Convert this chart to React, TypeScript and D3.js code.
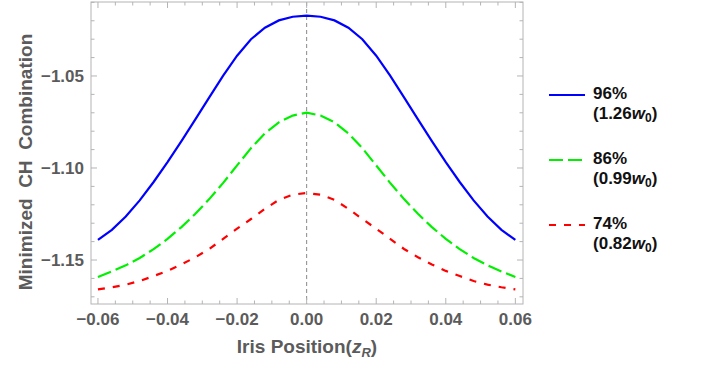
import React from 'react'
import * as d3 from 'd3'

// iris position in units of z_R
const xs = [
    -0.06, -0.056, -0.052, -0.048, -0.044, -0.04, -0.036, -0.032, -0.028, -0.024, -0.02, -0.016, -0.012, -0.008, -0.004,
    0, 0.004, 0.008, 0.012, 0.016, 0.02, 0.024, 0.028, 0.032, 0.036, 0.04, 0.044, 0.048, 0.052, 0.056, 0.06,
]
const blue96 = [
    -1.1391, -1.1336, -1.1264, -1.1176, -1.1076, -1.0968, -1.0854, -1.0736, -1.0616, -1.0498, -1.039, -1.03, -1.0238, -1.0198, -1.0178,
    -1.0172, -1.0178, -1.0198, -1.0238, -1.03, -1.039, -1.0498, -1.0616, -1.0736, -1.0854, -1.0968, -1.1076, -1.1176, -1.1264, -1.1336, -1.1391,
]
const green86 = [
    -1.1592, -1.1562, -1.1529, -1.1489, -1.1441, -1.1385, -1.1321, -1.1249, -1.1169, -1.1081, -1.0986, -1.0892, -1.0812, -1.0752, -1.0715,
    -1.0699, -1.0715, -1.0752, -1.0812, -1.0892, -1.0986, -1.1081, -1.1169, -1.1249, -1.1321, -1.1385, -1.1441, -1.1489, -1.1529, -1.1562, -1.1592,
]
const red74 = [
    -1.166, -1.1648, -1.1634, -1.1614, -1.1587, -1.1559, -1.1524, -1.1485, -1.144, -1.1385, -1.133, -1.1277, -1.1222, -1.1173, -1.1145,
    -1.1136, -1.1145, -1.1173, -1.1222, -1.1277, -1.133, -1.1385, -1.144, -1.1485, -1.1524, -1.1559, -1.1587, -1.1614, -1.1634, -1.1648, -1.166,
]

const xMajor = [-0.06, -0.04, -0.02, 0, 0.02, 0.04, 0.06]
const yMajor = [-1.05, -1.1, -1.15]
const legendPct = ['96%', '86%', '74%']
const legendWaist = ['1.26', '0.99', '0.82']

const W = 704
const H = 365
const left = 91
const right = 523
const top = 2
const bottom = 304
const grey = '#5b5b5b'
const frameCol = '#b4b4b4'

const fmt = (v: number) => (v < 0 ? '\u2212' : '') + d3.format('.2f')(Math.abs(v))

export default function App() {
    const x = d3.scaleLinear().domain([-0.062, 0.0622]).range([left, right])
    const y = d3.scaleLinear().domain([-1.1739, -1.0098]).range([bottom, top])

    const series = [
        { vals: blue96, color: '#0000ff', dash: undefined },
        { vals: green86, color: '#00f000', dash: '14,5' },
        { vals: red74, color: '#ff0000', dash: '7,8' },
    ]
    const line = d3
        .line<number>()
        .x((_, i) => x(xs[i]))
        .y((d) => y(d))

    const isMajor = (v: number, list: number[]) => list.some((m) => Math.abs(m - v) < 1e-6)
    const xTicks = x.ticks(25)
    const yTicks = y.ticks(16)

    return (
        <svg width={W} height={H} style={{ position: 'absolute', left: 0, top: 0, background: '#fff' }}
            fontFamily="'Liberation Sans', Arial, sans-serif">
            {/* zero line */}
            <line x1={x(0)} x2={x(0)} y1={top} y2={bottom} stroke="#8a8a8a" strokeWidth={1} strokeDasharray="4,3" />

            {series.map((s, i) => (
                <path key={i} d={line(s.vals) || ''} fill="none" stroke={s.color} strokeWidth={2.2}
                    strokeDasharray={s.dash} />
            ))}

            {/* frame */}
            <rect x={left} y={top} width={right - left} height={bottom - top} fill="none" stroke={frameCol} strokeWidth={1} />
            {xTicks.map((v, i) => {
                const len = isMajor(v, xMajor) ? 6 : 3.5
                return (
                    <g key={'xt' + i} stroke={frameCol}>
                        <line x1={x(v)} x2={x(v)} y1={bottom} y2={bottom - len} />
                        <line x1={x(v)} x2={x(v)} y1={top} y2={top + len} />
                    </g>
                )
            })}
            {yTicks.map((v, i) => {
                const len = isMajor(v, yMajor) ? 6 : 3.5
                return (
                    <g key={'yt' + i} stroke={frameCol}>
                        <line x1={left} x2={left + len} y1={y(v)} y2={y(v)} />
                        <line x1={right} x2={right - len} y1={y(v)} y2={y(v)} />
                    </g>
                )
            })}

            {xMajor.map((v, i) => (
                <text key={'xl' + i} x={x(v)} y={324.5} textAnchor="middle" fontSize={17} fontWeight="bold" fill={grey}>
                    {fmt(v)}
                </text>
            ))}
            {yMajor.map((v, i) => (
                <text key={'yl' + i} x={84} y={y(v) + 6} textAnchor="end" fontSize={17} fontWeight="bold" fill={grey}>
                    {fmt(v)}
                </text>
            ))}

            <text x={307} y={353} textAnchor="middle" fontSize={19} fontWeight="bold" fill={grey}>
                Iris Position(<tspan fontStyle="italic">z</tspan>
                <tspan fontStyle="italic" fontSize={13} dy={4}>R</tspan>
                <tspan dy={-4}>)</tspan>
            </text>
            <text transform="translate(32,162) rotate(-90)" textAnchor="middle" fontSize={19} fontWeight="bold" fill={grey}
                style={{ whiteSpace: 'pre' }}>
                {'Minimized  CH  Combination'}
            </text>

            {/* legend */}
            {series.map((s, i) => {
                const ly = 95 + i * 65
                return (
                    <g key={'lg' + i}>
                        <line x1={549} x2={585} y1={ly} y2={ly} stroke={s.color} strokeWidth={2.2} strokeDasharray={s.dash} />
                        <text x={593} y={ly + 4} fontSize={17} fontWeight="bold" fill="#111">{legendPct[i]}</text>
                        <text x={593} y={ly + 24} fontSize={17} fontWeight="bold" fill="#111">
                            ({legendWaist[i]}
                            <tspan fontStyle="italic">w</tspan>
                            <tspan fontSize={12} dy={3}>0</tspan>
                            <tspan dy={-3}>)</tspan>
                        </text>
                    </g>
                )
            })}
        </svg>
    )
}
